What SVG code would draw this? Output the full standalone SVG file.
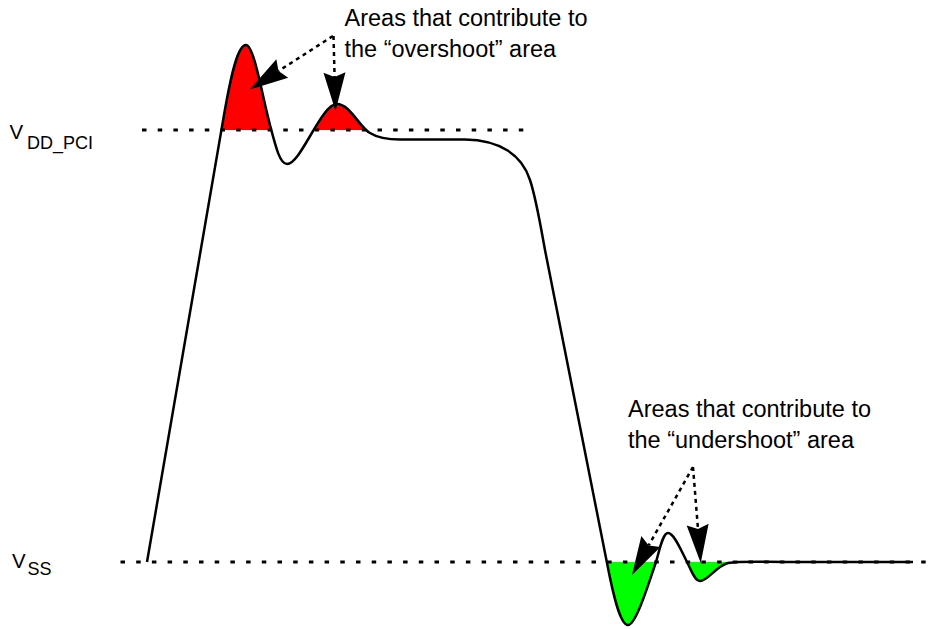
<svg xmlns="http://www.w3.org/2000/svg" width="941" height="629" viewBox="0 0 941 629">
<style>
.txt{font-family:"Liberation Sans",Arial,sans-serif;fill:#000}
.big{font-size:23.5px}
.lab{font-size:20.5px}
.sub{font-size:18px}
.ref{stroke:#000;stroke-width:2.8;stroke-dasharray:4.5 11.2;fill:none}
.dot{stroke:#000;stroke-width:2.5;stroke-dasharray:4 4;fill:none;marker-end:url(#ah)}
.wave{stroke:#000;stroke-width:2.5;fill:none;stroke-linejoin:round}
</style>
<defs>
<marker id="ah" markerUnits="userSpaceOnUse" markerWidth="40" markerHeight="24" refX="0" refY="11" orient="auto" overflow="visible">
<path d="M-4.5,0 L34,11 L-4.5,22 L0,11 Z" fill="#000"/>
</marker>
<path id="wv" d="M147,562 L224,115 C231.5,72 238,45 246,45 C254,45 262,95 270,125 C276,148 280,164 287,164 C301,164 321,104 337,104 C350,104 360,128 370,133 C378,138 390,139.5 400,139.5 L465,139.5 C500,140 522,155 530,180 C536,198 541,228 545,250 L607,563 C613,594 620,625 628,625 C636,625 648,585 656,562 C660,548 663,533 668,533 C674,533 681,550 687,562 C692,572 695,581 700,581 C708,581 716,566 728,563 C740,561 760,562 790,562 L913,562"/>
<clipPath id="above"><rect x="0" y="0" width="941" height="130"/></clipPath>
<clipPath id="below"><rect x="0" y="562" width="941" height="67"/></clipPath>
</defs>
<rect width="941" height="629" fill="#fff"/>
<g id="overshoot-areas" clip-path="url(#above)">
<use href="#wv" fill="#ff0000" stroke="none"/>
</g>
<g id="undershoot-areas" clip-path="url(#below)">
<use href="#wv" fill="#00ff00" stroke="none"/>
</g>
<g id="vdd-line"><line class="ref" x1="142" y1="130" x2="532" y2="130"/></g>
<g id="vss-line"><line class="ref" x1="120.5" y1="562" x2="931" y2="562"/></g>
<g id="waveform"><use href="#wv" class="wave"/></g>
<g id="connectors">
<path class="dot" d="M333,36 L278.5,71"/>
<path class="dot" d="M333.5,36 L334.6,77"/>
<path class="dot" d="M693,467 L648.7,545.4"/>
<path class="dot" d="M693,467 L698,529.1"/>
</g>
<g id="label-vdd"><text class="txt lab" x="9.5" y="139">V<tspan class="sub" x="27" y="148.5">DD_PCI</tspan></text></g>
<g id="label-vss"><text class="txt lab" x="12" y="567.5">V<tspan class="sub" x="27.5" y="575">SS</tspan></text></g>
<g id="note-overshoot"><text class="txt big" x="344.5" y="26">Areas that contribute to</text><text class="txt big" x="344.5" y="57">the “overshoot” area</text></g>
<g id="note-undershoot"><text class="txt big" x="628" y="417">Areas that contribute to</text><text class="txt big" x="628" y="448">the “undershoot” area</text></g>
</svg>
